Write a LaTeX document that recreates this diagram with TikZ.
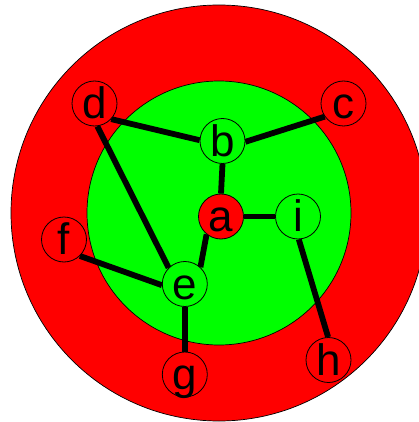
\documentclass[tikz,border=0pt]{standalone}
\usepackage{fontspec}
\setmainfont{Liberation Sans}
\definecolor{pred}{RGB}{255,0,0}
\definecolor{pgreen}{RGB}{0,255,0}
\pgfdeclarelayer{discs}
\pgfdeclarelayer{links}
\pgfsetlayers{discs,links,main}
\begin{document}
\begin{tikzpicture}[x=1pt,y=-1pt,
  vtx/.style={circle,draw=black,line width=0.8pt,minimum size=45pt,inner sep=0pt,
    text height=30pt,text depth=0pt,font=\fontsize{44}{44}\selectfont},
  rv/.style={vtx,fill=pred},
  gv/.style={vtx,fill=pgreen},
  edge/.style={line width=5.8pt,black}]
\clip (0,0) rectangle (418,422);
\useasboundingbox (0,0) rectangle (418,422);
\node[rv] (d) at (94.5,103.5) {d};
\node[rv] (c) at (343.5,103.5) {c};
\node[gv] (b) at (222.5,141) {b};
\node[rv] (a) at (221,216.5) {a};
\node[gv] (i) at (298,216.5) {i};
\node[rv] (f) at (64,239.5) {f};
\node[gv] (e) at (184.8,284) {e};
\node[rv] (g) at (184.8,374.5) {g};
\node[rv] (h) at (328.5,360) {h};
\begin{pgfonlayer}{discs}
\fill[pred,draw=black,line width=0.7pt] (219,213) circle (208);
\fill[pgreen,draw=black,line width=0.7pt] (219,213) circle (132);
\end{pgfonlayer}
\begin{pgfonlayer}{links}
\draw[edge] (d.317) -- (b.178);
\draw[edge] (b.358) -- (c.215);
\draw[edge] (b.270) -- (a.90);
\draw[edge] (a.0) -- (i.180);
\draw[edge] (a.231) -- (e.47);
\draw[edge] (d.277) -- (e.135);
\draw[edge] (f.314) -- (e.183);
\draw[edge] (e.270) -- (g.90);
\draw[edge] (i.272) -- (h.91);
\end{pgfonlayer}
\end{tikzpicture}
\end{document}
